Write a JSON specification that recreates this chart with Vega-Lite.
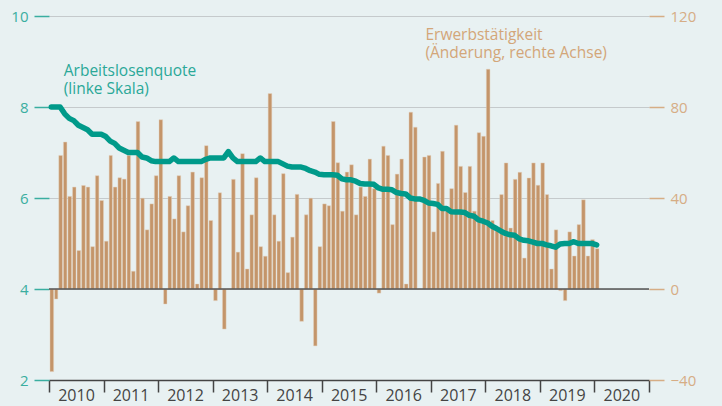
{
  "$schema": "https://vega.github.io/schema/vega-lite/v6.json",
  "width": 600,
  "height": 364,
  "autosize": "none",
  "padding": {"left": 49, "top": 16, "right": 73, "bottom": 26},
  "background": "#e8f1f2",
  "config": {"view": {"stroke": null}, "font": "Open Sans"},
  "data": {"values": [
    {"m":"2010-01","emp":-36.3,"ur":8.0},{"m":"2010-02","emp":-4.4,"ur":8.0},{"m":"2010-03","emp":58.7,"ur":8.0},{"m":"2010-04","emp":64.6,"ur":7.85},{"m":"2010-05","emp":40.7,"ur":7.75},{"m":"2010-06","emp":44.8,"ur":7.7},{"m":"2010-07","emp":16.9,"ur":7.6},{"m":"2010-08","emp":45.5,"ur":7.55},{"m":"2010-09","emp":44.8,"ur":7.5},{"m":"2010-10","emp":18.6,"ur":7.4},{"m":"2010-11","emp":49.8,"ur":7.4},{"m":"2010-12","emp":38.9,"ur":7.4},
    {"m":"2011-01","emp":21.0,"ur":7.35},{"m":"2011-02","emp":58.7,"ur":7.25},{"m":"2011-03","emp":44.8,"ur":7.2},{"m":"2011-04","emp":48.9,"ur":7.1},{"m":"2011-05","emp":48.3,"ur":7.05},{"m":"2011-06","emp":58.7,"ur":7.0},{"m":"2011-07","emp":7.8,"ur":7.0},{"m":"2011-08","emp":73.6,"ur":7.0},{"m":"2011-09","emp":39.9,"ur":6.9},{"m":"2011-10","emp":26.0,"ur":6.88},{"m":"2011-11","emp":37.4,"ur":6.82},{"m":"2011-12","emp":49.8,"ur":6.8},
    {"m":"2012-01","emp":74.4,"ur":6.8},{"m":"2012-02","emp":-6.6,"ur":6.8},{"m":"2012-03","emp":40.7,"ur":6.8},{"m":"2012-04","emp":30.8,"ur":6.88},{"m":"2012-05","emp":49.8,"ur":6.8},{"m":"2012-06","emp":25.1,"ur":6.8},{"m":"2012-07","emp":36.6,"ur":6.8},{"m":"2012-08","emp":51.4,"ur":6.8},{"m":"2012-09","emp":2.2,"ur":6.8},{"m":"2012-10","emp":48.9,"ur":6.8},{"m":"2012-11","emp":63.0,"ur":6.85},{"m":"2012-12","emp":30.1,"ur":6.88},
    {"m":"2013-01","emp":-5.1,"ur":6.88},{"m":"2013-02","emp":42.3,"ur":6.88},{"m":"2013-03","emp":-17.6,"ur":6.88},{"m":"2013-04","emp":0,"ur":7.02},{"m":"2013-05","emp":48.2,"ur":6.88},{"m":"2013-06","emp":16.2,"ur":6.8},{"m":"2013-07","emp":59.5,"ur":6.8},{"m":"2013-08","emp":8.8,"ur":6.8},{"m":"2013-09","emp":32.6,"ur":6.8},{"m":"2013-10","emp":48.9,"ur":6.8},{"m":"2013-11","emp":18.6,"ur":6.88},{"m":"2013-12","emp":14.4,"ur":6.8},
    {"m":"2014-01","emp":85.9,"ur":6.8},{"m":"2014-02","emp":32.6,"ur":6.8},{"m":"2014-03","emp":21.0,"ur":6.8},{"m":"2014-04","emp":50.7,"ur":6.75},{"m":"2014-05","emp":7.2,"ur":6.7},{"m":"2014-06","emp":22.8,"ur":6.68},{"m":"2014-07","emp":41.6,"ur":6.68},{"m":"2014-08","emp":-14.2,"ur":6.68},{"m":"2014-09","emp":32.6,"ur":6.65},{"m":"2014-10","emp":39.9,"ur":6.6},{"m":"2014-11","emp":-25.0,"ur":6.57},{"m":"2014-12","emp":18.6,"ur":6.52},
    {"m":"2015-01","emp":37.4,"ur":6.51},{"m":"2015-02","emp":36.6,"ur":6.51},{"m":"2015-03","emp":73.6,"ur":6.51},{"m":"2015-04","emp":55.5,"ur":6.5},{"m":"2015-05","emp":34.2,"ur":6.42},{"m":"2015-06","emp":51.4,"ur":6.4},{"m":"2015-07","emp":54.6,"ur":6.4},{"m":"2015-08","emp":32.6,"ur":6.37},{"m":"2015-09","emp":44.8,"ur":6.32},{"m":"2015-10","emp":40.7,"ur":6.31},{"m":"2015-11","emp":57.1,"ur":6.31},{"m":"2015-12","emp":44.1,"ur":6.3},
    {"m":"2016-01","emp":-1.8,"ur":6.22},{"m":"2016-02","emp":62.8,"ur":6.19},{"m":"2016-03","emp":58.7,"ur":6.19},{"m":"2016-04","emp":28.3,"ur":6.18},{"m":"2016-05","emp":50.5,"ur":6.12},{"m":"2016-06","emp":57.1,"ur":6.1},{"m":"2016-07","emp":2.2,"ur":6.09},{"m":"2016-08","emp":77.7,"ur":6.0},{"m":"2016-09","emp":71.1,"ur":5.98},{"m":"2016-10","emp":0,"ur":5.98},{"m":"2016-11","emp":58.0,"ur":5.95},{"m":"2016-12","emp":58.7,"ur":5.89},
    {"m":"2017-01","emp":25.1,"ur":5.88},{"m":"2017-02","emp":46.4,"ur":5.86},{"m":"2017-03","emp":60.5,"ur":5.77},{"m":"2017-04","emp":34.2,"ur":5.77},{"m":"2017-05","emp":44.1,"ur":5.7},{"m":"2017-06","emp":72.0,"ur":5.69},{"m":"2017-07","emp":53.9,"ur":5.69},{"m":"2017-08","emp":42.4,"ur":5.68},{"m":"2017-09","emp":53.9,"ur":5.62},{"m":"2017-10","emp":34.2,"ur":5.6},{"m":"2017-11","emp":68.7,"ur":5.52},{"m":"2017-12","emp":67.1,"ur":5.49},
    {"m":"2018-01","emp":96.6,"ur":5.45},{"m":"2018-02","emp":30.1,"ur":5.38},{"m":"2018-03","emp":26.0,"ur":5.33},{"m":"2018-04","emp":41.5,"ur":5.27},{"m":"2018-05","emp":55.4,"ur":5.22},{"m":"2018-06","emp":26.8,"ur":5.19},{"m":"2018-07","emp":48.2,"ur":5.18},{"m":"2018-08","emp":51.3,"ur":5.1},{"m":"2018-09","emp":13.6,"ur":5.07},{"m":"2018-10","emp":48.8,"ur":5.06},{"m":"2018-11","emp":55.4,"ur":5.03},{"m":"2018-12","emp":45.6,"ur":5.0},
    {"m":"2019-01","emp":55.4,"ur":5.0},{"m":"2019-02","emp":41.5,"ur":4.97},{"m":"2019-03","emp":8.8,"ur":4.95},{"m":"2019-04","emp":26.0,"ur":4.92},{"m":"2019-05","emp":-0.7,"ur":4.99},{"m":"2019-06","emp":-5.1,"ur":5.0},{"m":"2019-07","emp":25.1,"ur":5.0},{"m":"2019-08","emp":14.5,"ur":5.04},{"m":"2019-09","emp":28.3,"ur":5.0},{"m":"2019-10","emp":39.2,"ur":5.0},{"m":"2019-11","emp":14.5,"ur":5.0},{"m":"2019-12","emp":21.7,"ur":5.0},
    {"m":"2020-01","emp":17.7,"ur":4.97}
  ]},
  "layer": [
    {
      "mark": {"type": "bar", "color": "#c4956a", "stroke": "#e4d2bf", "strokeWidth": 0.45},
      "encoding": {
        "x": {
          "field": "m", "timeUnit": "utcyearmonth", "type": "temporal",
          "scale": {"type": "utc", "domain": [{"year": 2010, "month": 1, "date": 1, "utc": true}, {"year": 2021, "month": 1, "date": 1, "utc": true}]},
          "axis": {
            "values": [
              {"year": 2010, "month": 1, "date": 1, "utc": true},{"year": 2011, "month": 1, "date": 1, "utc": true},{"year": 2012, "month": 1, "date": 1, "utc": true},{"year": 2013, "month": 1, "date": 1, "utc": true},{"year": 2014, "month": 1, "date": 1, "utc": true},{"year": 2015, "month": 1, "date": 1, "utc": true},{"year": 2016, "month": 1, "date": 1, "utc": true},{"year": 2017, "month": 1, "date": 1, "utc": true},{"year": 2018, "month": 1, "date": 1, "utc": true},{"year": 2019, "month": 1, "date": 1, "utc": true},{"year": 2020, "month": 1, "date": 1, "utc": true},{"year": 2021, "month": 1, "date": 1, "utc": true}
            ],
            "labelExpr": "utcyear(datum.value) > 2020 ? '' : utcFormat(datum.value, '%Y')",
            "labelOffset": 27, "labelAlign": "center", "labelBaseline": "top",
            "labelPadding": -5, "labelFontSize": 16, "labelColor": "#444444",
            "labelFlush": false, "labelOverlap": false, "labelBound": false,
            "tickSize": 12, "tickColor": "#444444", "tickWidth": 1.5,
            "domainColor": "#444444", "domainWidth": 1.5,
            "grid": false, "title": null
          }
        },
        "y": {
          "field": "emp", "type": "quantitative",
          "scale": {"domain": [-40, 120], "nice": false, "zero": false},
          "axis": {
            "orient": "right", "values": [-40, 0, 40, 80, 120],
            "tickSize": 15, "tickColor": "#d6ad85", "tickWidth": 1.5,
            "labelColor": "#d6ad85", "labelFontSize": 15, "labelPadding": 6,
            "domain": false, "grid": false, "title": null
          }
        }
      }
    },
    {
      "data": {"values": [{}]},
      "mark": {"type": "rule", "color": "#555555", "strokeWidth": 1.5},
      "encoding": {
        "y": {"datum": 0, "type": "quantitative", "scale": {"domain": [-40, 120], "nice": false, "zero": false}, "axis": null}
      }
    },
    {
      "mark": {"type": "line", "color": "#009a8a", "strokeWidth": 5.5, "strokeJoin": "round", "strokeCap": "round"},
      "encoding": {
        "x": {"field": "m", "timeUnit": "utcyearmonth", "type": "temporal", "bandPosition": 0.5,
              "scale": {"type": "utc", "domain": [{"year": 2010, "month": 1, "date": 1, "utc": true}, {"year": 2021, "month": 1, "date": 1, "utc": true}]}},
        "y": {
          "field": "ur", "type": "quantitative",
          "scale": {"domain": [2, 10], "nice": false, "zero": false},
          "axis": {
            "orient": "left", "values": [2, 4, 6, 8, 10], "format": "d",
            "tickSize": 15, "tickColor": "#3aaea0", "tickWidth": 1.5,
            "labelColor": "#3aaea0", "labelFontSize": 15, "labelPadding": 6,
            "domain": false, "grid": true, "gridColor": "#c5cacc", "gridWidth": 1.2, "title": null
          }
        }
      }
    },
    {
      "data": {"values": [{}]},
      "mark": {"type": "text", "align": "left", "baseline": "alphabetic", "fontSize": 15.5, "lineHeight": 18, "color": "#2aa898",
               "text": ["Arbeitslosenquote", "(linke Skala)"]},
      "encoding": {
        "x": {"datum": {"year": 2010, "month": 4, "date": 10, "utc": true}, "type": "temporal",
              "scale": {"type": "utc", "domain": [{"year": 2010, "month": 1, "date": 1, "utc": true}, {"year": 2021, "month": 1, "date": 1, "utc": true}]}},
        "y": {"datum": 8.69, "type": "quantitative", "scale": {"domain": [2, 10], "nice": false, "zero": false}, "axis": null}
      }
    },
    {
      "data": {"values": [{}]},
      "mark": {"type": "text", "align": "left", "baseline": "alphabetic", "fontSize": 15.5, "lineHeight": 18, "color": "#d3a679",
               "text": ["Erwerbstätigkeit", "(Änderung, rechte Achse)"]},
      "encoding": {
        "x": {"datum": {"year": 2016, "month": 11, "date": 26, "utc": true}, "type": "temporal",
              "scale": {"type": "utc", "domain": [{"year": 2010, "month": 1, "date": 1, "utc": true}, {"year": 2021, "month": 1, "date": 1, "utc": true}]}},
        "y": {"datum": 9.48, "type": "quantitative", "scale": {"domain": [2, 10], "nice": false, "zero": false}, "axis": null}
      }
    }
  ],
  "resolve": {"scale": {"y": "independent"}, "axis": {"y": "independent"}}
}
